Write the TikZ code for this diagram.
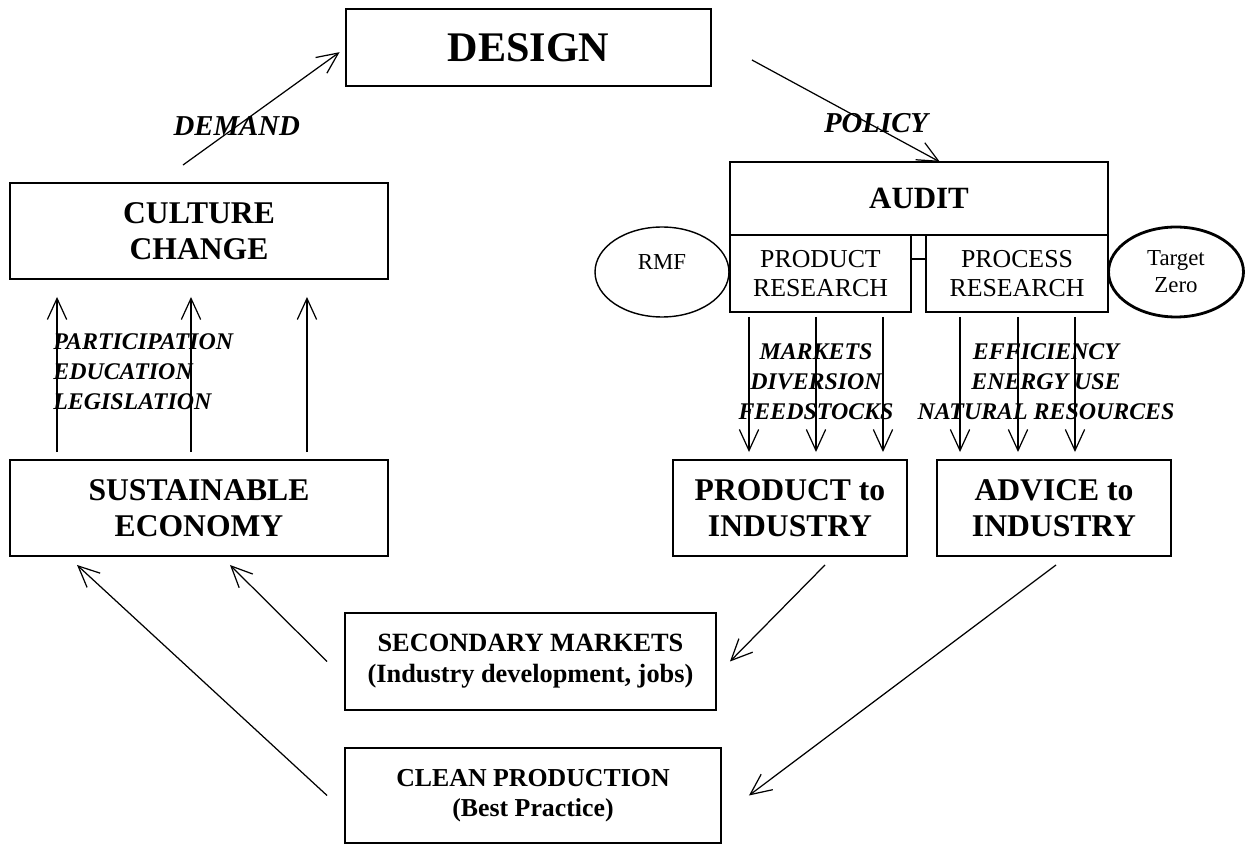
\documentclass[tikz,border=0pt]{standalone}
\usepackage{fontspec}
\setmainfont{Liberation Serif}
\usetikzlibrary{arrows.meta,shapes.geometric}

\begin{document}
\begin{tikzpicture}[x=0.02cm,y=-0.02cm,>={Straight Barb[length=12pt,width=11pt]},
	box/.style={draw,line width=1pt,inner sep=0pt,outer sep=0pt,align=center,font=\bfseries\fontsize{18}{20.5}\selectfont},
	oval/.style={draw,ellipse,line width=0.8pt,inner sep=0pt,outer sep=0pt,align=center,font=\fontsize{13}{15.4}\selectfont},
	arr/.style={->,line width=0.7pt},
	lbl/.style={font=\bfseries\itshape\fontsize{16.4}{19}\selectfont},
	lst/.style={align=center,inner sep=0pt,font=\bfseries\itshape\fontsize{13.6}{17}\selectfont}]
		\useasboundingbox (0,0) rectangle (1252,844);

		% boxes
		\node[box,minimum width=7.30cm,minimum height=1.54cm,font=\bfseries\fontsize{24}{28}\selectfont] (design) at (528.5,47.5) {DESIGN};
		\node[box,minimum width=7.56cm,minimum height=1.92cm] (culture) at (199,231) {CULTURE\\CHANGE};
		\node[box,minimum width=7.56cm,minimum height=1.92cm] (sustain) at (199,508) {SUSTAINABLE\\ECONOMY};
		\node[box,minimum width=7.56cm,minimum height=1.46cm,font=\bfseries\fontsize{17.6}{20}\selectfont] (audit) at (919,198.5) {AUDIT};
		\node[box,minimum width=3.62cm,minimum height=1.54cm,font=\fontsize{14.7}{16.5}\selectfont] (prodres) at (820.5,273.5) {PRODUCT\\RESEARCH};
		\node[box,minimum width=3.64cm,minimum height=1.54cm,font=\fontsize{14.7}{16.5}\selectfont] (procres) at (1017,273.5) {PROCESS\\RESEARCH};
		\node[oval,minimum width=2.68cm,minimum height=1.80cm,text depth=11pt] (rmf) at (662,272) {RMF};
		\node[oval,line width=1.6pt,minimum width=2.70cm,minimum height=1.80cm] (tzero) at (1176,272) {Target\\Zero};
		\node[box,minimum width=4.68cm,minimum height=1.92cm] (prodind) at (790,508) {PRODUCT to\\INDUSTRY};
		\node[box,minimum width=4.68cm,minimum height=1.92cm] (advind) at (1054,508) {ADVICE to\\INDUSTRY};
		\node[box,minimum width=7.42cm,minimum height=1.94cm,font=\bfseries\fontsize{15}{17.6}\selectfont] (secmkt) at (530.5,661.5) {SECONDARY MARKETS\\(Industry development, jobs)};
		\node[box,minimum width=7.52cm,minimum height=1.90cm,font=\bfseries\fontsize{14.7}{17}\selectfont] (clean) at (533,795.5) {CLEAN PRODUCTION\\(Best Practice)};

		\draw[line width=1pt] ([yshift=0.29cm]prodres.east) coordinate (lk) -- (lk -| procres.west);

		% loop arrows
		\draw[arr,shorten >=0.16cm] ([xshift=-0.32cm,yshift=0.36cm]culture.north) -- (design.west) node[lbl,pos=0.33] (demand) {DEMAND};
		\draw[arr] ([xshift=0.82cm,yshift=-0.25cm]design.east) -- ([xshift=0.42cm]audit.north) node[lbl,pos=0.66,yshift=0.08cm] (policy) {POLICY};
		\draw[arr] ([xshift=0.7cm,yshift=-0.18cm]prodind.south) -- ([xshift=0.28cm]secmkt.east);
		\draw[arr] ([xshift=0.04cm,yshift=-0.18cm]advind.south) -- ([xshift=0.56cm]clean.east);
		\draw[arr] ([xshift=-0.36cm]secmkt.west) -- ([xshift=4.4cm,yshift=-0.18cm]sustain.south west);
		\draw[arr] ([xshift=-0.36cm]clean.west) -- ([xshift=1.34cm,yshift=-0.18cm]sustain.south west);

		% vertical arrows
		\foreach \dx in {0.94,3.62,5.94}
			\draw[arr,shorten >=0.36cm] ([xshift=\dx cm,yshift=0.16cm]sustain.north west) coordinate (t) -- (t |- culture.south);
		\foreach \dx in {0.38,1.72,3.06}
			\draw[arr,shorten >=0.16cm] ([xshift=\dx cm,yshift=-0.1cm]prodres.south west) coordinate (t) -- (t |- prodind.north);
		\foreach \dx in {0.68,1.84,2.98}
			\draw[arr,shorten >=0.16cm] ([xshift=\dx cm,yshift=-0.1cm]procres.south west) coordinate (t) -- (t |- advind.north);

		\node[lst,align=left,anchor=west] (civic) at (53,372) {PARTICIPATION\\EDUCATION\\LEGISLATION};
		\node[lst] (prodtopics) at (816,382) {MARKETS\\DIVERSION\\FEEDSTOCKS};
		\node[lst] (proctopics) at (1046,382) {EFFICIENCY\\ENERGY USE\\NATURAL RESOURCES};

	\end{tikzpicture}
\end{document}
